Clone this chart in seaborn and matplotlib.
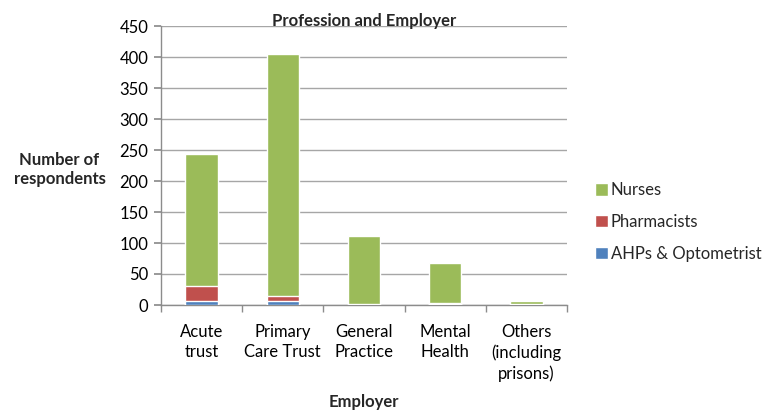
import matplotlib
matplotlib.use("Agg")
import matplotlib.pyplot as plt
import seaborn as sns
import pandas as pd
import numpy as np

# Respondents by employer, split by profession
employers = ["Acute\ntrust", "Primary\nCare Trust", "General\nPractice", "Mental\nHealth", "Others\n(including\nprisons)"]
ahps = [6, 7, 0, 1, 0]
pharmacists = [24, 8, 2, 2, 1]
nurses = [214, 390, 110, 65, 5]

series_names = ["Nurses", "Pharmacists", "AHPs & Optometrist"]
colors = {"Nurses": "#9BBB59", "Pharmacists": "#C0504D", "AHPs & Optometrist": "#4F81BD"}

sns.set_theme(style="white")
plt.rcParams["font.family"] = ["Lato", "DejaVu Sans"]

df = pd.DataFrame({
    "Employer": employers,
    "AHPs & Optometrist": ahps,
    "Pharmacists": pharmacists,
    "Nurses": nurses,
})
# cumulative heights for stacking (top layer drawn first)
df["top_Nurses"] = df["AHPs & Optometrist"] + df["Pharmacists"] + df["Nurses"]
df["top_Pharmacists"] = df["AHPs & Optometrist"] + df["Pharmacists"]
df["top_AHPs & Optometrist"] = df["AHPs & Optometrist"]

fig = plt.figure(figsize=(7.64, 4.11), dpi=100)
ax = fig.add_axes([161 / 764, 1 - 305 / 411, (567 - 161) / 764, (305 - 26) / 411])

for name in series_names:
    sns.barplot(data=df, x="Employer", y="top_" + name, color=colors[name],
                width=0.4, saturation=1, ax=ax, label=name, zorder=3)

ax.set_ylim(0, 450)
ax.set_yticks(np.arange(0, 451, 50))
ax.set_xlim(-0.5, len(employers) - 0.5)
ax.yaxis.grid(True, color="#a6a6a6", linewidth=1, zorder=0)
ax.set_axisbelow(True)

for side in ["top", "right"]:
    ax.spines[side].set_visible(False)
for side in ["left", "bottom"]:
    ax.spines[side].set_color("#8c8c8c")
    ax.spines[side].set_linewidth(1)

ax.tick_params(axis="y", which="major", left=True, length=5, color="#8c8c8c",
               labelsize=12, labelcolor="#000000", pad=4)
ax.tick_params(axis="x", which="major", bottom=False, labelsize=12, pad=8,
               labelcolor="#000000")
for lbl in ax.get_xticklabels():
    lbl.set_linespacing(1.3)
ax.set_xticks(np.arange(-0.5, len(employers), 1.0), minor=True)
ax.tick_params(axis="x", which="minor", bottom=True, length=5, color="#8c8c8c")

ax.set_xlabel("Employer", fontsize=12, fontweight="bold", va="center")
ax.xaxis.set_label_coords(0.5, (305 - 402) / 279)
ax.set_ylabel("Number of\nrespondents", fontsize=12, fontweight="bold",
              rotation=0, ha="center", va="center", linespacing=1.2)
ax.yaxis.set_label_coords(-0.25, 0.485)

ax.set_title("Profession and Employer", fontsize=12, fontweight="bold", pad=0)

handles, labels = ax.get_legend_handles_labels()
leg = ax.legend(handles, labels, loc="center left", bbox_to_anchor=((595 - 161) / 406, 0.297),
                frameon=False, fontsize=12, labelspacing=0.95, handlelength=0.75,
                handleheight=0.75, handletextpad=0.2, borderpad=0, borderaxespad=0)

fig.savefig("out.png", dpi=100)
